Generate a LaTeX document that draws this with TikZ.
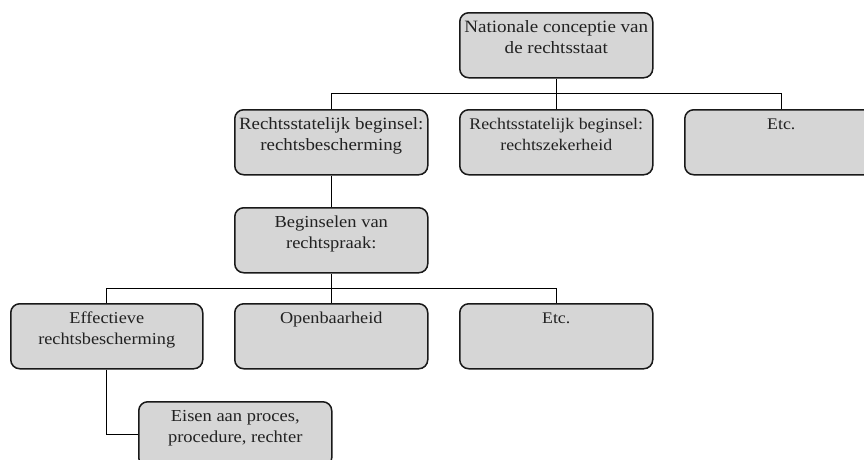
\documentclass[tikz,border=0pt]{standalone}
\usepackage{fontspec}
\setmainfont{Liberation Serif}[FakeStretch=1.1]
\definecolor{boxgray}{HTML}{D6D6D6}
\definecolor{textcol}{HTML}{222222}
\newcommand\bxt[3][185pt]{\parbox[c][55pt][t]{#1}{\centering\fontsize{#2}{21}\selectfont\strut #3}}
\tikzset{
  box/.style={draw=black!90, line width=1.5pt, fill=boxgray, rounded corners=9pt,
    inner xsep=4pt, inner ysep=5pt, anchor=north west, text=textcol},
  conn/.style={draw=black, line width=0.8pt}
}
\begin{document}
\begin{tikzpicture}[x=1pt,y=1pt]
\useasboundingbox (0,0) rectangle (864,-459);
\clip (0,0) rectangle (864,-459);
\coordinate (bus1) at (0,-93);
\coordinate (bus2) at (0,-288);
\node[box] (top) at (459,-12) {\bxt{17.3}{Nationale conceptie van\\de rechtsstaat}};
\node[box] (A) at (234,-109) {\bxt{17.2}{Rechtsstatelijk beginsel:\\rechtsbescherming}};
\node[box] (B) at (459,-109) {\bxt{16.2}{Rechtsstatelijk beginsel:\\rechtszekerheid}};
\node[box] (C) at (684,-109) {\bxt{16.2}{Etc.}};
\node[box] (D) at (234,-207) {\bxt{16.8}{Beginselen van\\rechtspraak:}};
\node[box] (E) at (10,-303) {\bxt[184pt]{16.6}{Effectieve\\rechtsbescherming}};
\node[box] (F) at (234,-303) {\bxt{16.6}{Openbaarheid}};
\node[box] (G) at (459,-303) {\bxt{16.2}{Etc.}};
\node[box] (H) at (138,-401) {\bxt{16.8}{Eisen aan proces,\\procedure, rechter}};
\draw[conn] (top.south) -- (top.south |- bus1);
\draw[conn] (A.north) -- (A.north |- bus1) -- (C.north |- bus1) -- (C.north);
\draw[conn] (B.north) -- (B.north |- bus1);
\draw[conn] (A.south) -- (D.north);
\draw[conn] (D.south) -- (D.south |- bus2);
\draw[conn] (E.north) -- (E.north |- bus2) -- (G.north |- bus2) -- (G.north);
\draw[conn] (F.north) -- (F.north |- bus2);
\draw[conn] (E.south) |- (H.west);
\end{tikzpicture}
\end{document}
